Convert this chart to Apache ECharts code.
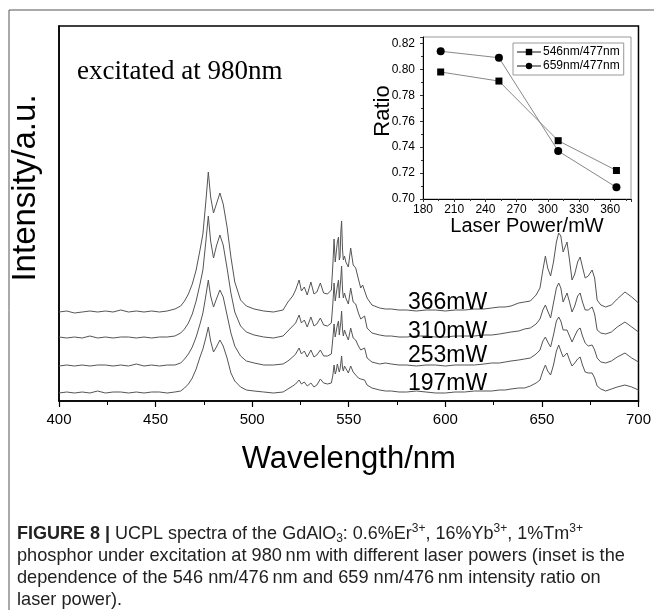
<!DOCTYPE html>
<html>
<head>
<meta charset="utf-8">
<script src="https://cdn.jsdelivr.net/npm/echarts@6/dist/echarts.min.js"></script>
<style>html,body{margin:0;padding:0;background:#fff}#c{width:654px;height:610px}</style>
</head>
<body>
<div id="c"></div>
<script>
// ---- main spectra data ----
const wavelengths = [
  400, 404, 408, 412, 416, 420, 424, 428, 432, 436,
  440, 444, 448, 452, 456, 460, 463, 465, 467, 469,
  471, 473, 474.5, 476, 477.3, 478.5, 480, 481.5, 483.3, 485,
  487, 489, 491, 494, 497, 501, 506, 511, 516, 518.5,
  521, 522.5, 524.3, 525.5, 527, 528.5, 530.4, 532, 533.5, 535.3,
  537, 539, 541, 541.8, 542.4, 543.0, 543.5, 544.1, 544.7, 545.1, 545.5, 545.9, 546.3, 546.8, 547.2, 547.8, 548.5,
  549.8, 551, 552.3, 553.6, 555, 556.2, 557.2, 558.2, 559.5, 562,
  566, 569, 572, 576, 580, 585, 590, 595, 600, 605, 610, 615, 620, 624, 628, 631, 634, 638,
  641, 644, 647, 649, 650.5, 651.8, 653, 654.5, 656, 657.5,
  658.7, 659.8, 661, 663, 664.3, 665.6, 667, 668.5, 669.8, 671,
  672.4, 674, 676, 677.3, 678.6, 680.5, 683, 686, 689, 693,
  696.5, 700
];
const powerLabels = ['197mW', '253mW', '310mW', '366mW'];
const baselines = [8, 35, 63, 89];
const s197 = [
  0, 1, 0, 1, 0, 2, 0, 1, 1, 0,
  1, 0, 1, 1, 0, 1, 2, 5, 9, 15,
  24, 36, 44, 55, 66, 52, 41, 46, 53, 47,
  35, 20, 12, 6, 3, 2, 1, 0, 1, 4,
  7, 9, 13, 9, 11, 7, 10, 6, 8, 14,
  10, 9, 10, 18, 28, 19, 22, 29, 31, 21, 24, 30, 37, 25, 22, 27, 26,
  20, 27, 21, 18, 15, 14, 12, 13, 8, 5,
  3, 2, 2, 1, 1, 2, 1, 0, 0, 1, 1, 2, 2, 2, 3, 3, 4, 5,
  5, 7, 10, 13, 22, 28, 22, 18, 28, 42,
  48, 42, 36, 40, 33, 27, 30, 34, 36, 28,
  21, 20, 20, 15, 7, 4, 2, 4, 6, 8,
  6, 3
];
const s253 = [
  0, 1, 0, 1, 0, 1, 1, 0, 1, 0,
  2, 0, 1, 0, 1, 1, 3, 7, 12, 19,
  29, 42, 53, 70, 86, 70, 59, 67, 76, 69,
  51, 33, 20, 10, 5, 3, 1, 1, 2, 5,
  9, 12, 18, 12, 15, 9, 16, 9, 11, 16,
  10, 10, 12, 28, 42, 29, 30, 41, 45, 31, 33, 44, 55, 36, 30, 36, 32,
  26, 38, 28, 26, 20, 16, 17, 18, 8, 4,
  2, 3, 2, 1, 1, 0, 1, 1, 0, 1, 1, 1, 2, 3, 3, 4, 5, 6,
  7, 8, 12, 16, 25, 29, 24, 19, 31, 45,
  49, 45, 36, 36, 30, 24, 30, 36, 38, 30,
  23, 20, 21, 16, 8, 4, 3, 5, 9, 13,
  8, 4
];
const s310 = [
  1, 0, 1, 0, 2, 0, 1, 0, 1, 1,
  0, 1, 0, 1, 1, 2, 5, 9, 15, 24,
  37, 54, 68, 96, 122, 97, 80, 92, 103, 93,
  70, 45, 26, 12, 6, 3, 1, 0, 2, 7,
  12, 15, 23, 15, 18, 11, 21, 12, 14, 20,
  13, 12, 15, 35, 55, 37, 38, 52, 58, 40, 42, 60, 72, 48, 40, 45, 40,
  34, 50, 36, 34, 25, 19, 21, 22, 10, 5,
  3, 2, 2, 1, 1, 2, 2, 1, 1, 2, 2, 2, 3, 3, 4, 5, 6, 7,
  9, 10, 14, 19, 28, 33, 27, 20, 35, 50,
  55, 50, 36, 45, 36, 26, 32, 42, 45, 36,
  28, 28, 31, 24, 8, 5, 4, 6, 11, 16,
  11, 6
];
const s366 = [
  0, 1, -1, 0, 1, 0, 1, 0, 2, 0,
  1, 0, 1, 0, 1, 3, 6, 11, 18, 28,
  42, 62, 78, 110, 140, 115, 99, 108, 119, 108,
  85, 55, 30, 12, 6, 3, 1, 0, 2, 10,
  16, 22, 32, 21, 25, 17, 30, 18, 20, 29,
  19, 18, 22, 48, 73, 50, 50, 70, 75, 52, 55, 80, 91, 62, 52, 56, 50,
  45, 64, 47, 44, 33, 24, 27, 29, 14, 7,
  4, 3, 3, 2, 2, 1, 2, 2, 1, 2, 2, 3, 3, 4, 5, 5, 6, 9,
  10, 11, 17, 24, 42, 56, 44, 36, 50, 70,
  79, 76, 60, 70, 52, 32, 38, 50, 55, 45,
  34, 36, 42, 34, 12, 7, 5, 7, 13, 20,
  15, 9
];
const xTicksMain = [400, 450, 500, 550, 600, 650, 700];

// ---- inset data ----
const laserPower = [197, 253, 310, 366];
const ratio546 = [0.798, 0.791, 0.745, 0.722];
const ratio659 = [0.814, 0.809, 0.737, 0.709];
const insetNames = ['546nm/477nm', '659nm/477nm'];

const signals = [s197, s253, s310, s366];
const spectraSeries = signals.map((s, k) => ({
  type: 'line', name: powerLabels[k], xAxisIndex: 0, yAxisIndex: 0,
  data: wavelengths.map((w, i) => [w, baselines[k] + s[i]]),
  showSymbol: false, symbol: 'none', smooth: false,
  lineStyle: { color: '#555', width: 1 }, silent: true, z: 2
}));

const labelY = [384, 356, 332, 303];
const chart = echarts.init(document.getElementById('c'), null, { renderer: 'canvas' });
const sans = 'Liberation Sans, Arial, sans-serif';
const capFont = 'Liberation Sans, Arial, sans-serif';

chart.setOption({
  animation: false,
  backgroundColor: '#fff',
  grid: [
    { left: 59, right: 14, top: 26, bottom: 209, show: true, borderColor: '#000', borderWidth: 1.5, z: 1 },
    { left: 423, right: 23, top: 37, bottom: 411, show: true, borderColor: '#999', borderWidth: 1, backgroundColor: '#fff', z: 5 }
  ],
  xAxis: [
    {
      gridIndex: 0, type: 'value', min: 400, max: 700, interval: 50,
      axisLine: { lineStyle: { color: '#000', width: 1.5 } },
      axisTick: { show: true, inside: false, length: 6, lineStyle: { color: '#000', width: 1.2 } },
      minorTick: { show: true, splitNumber: 2, length: 4, lineStyle: { color: '#000', width: 1 } },
      splitLine: { show: false },
      axisLabel: { color: '#000', fontSize: 15, fontFamily: sans, margin: 11,
        formatter: v => xTicksMain.includes(v) ? String(v) : '' },
      name: 'Wavelength/nm', nameLocation: 'middle', nameGap: 43,
      nameTextStyle: { color: '#000', fontSize: 31, fontFamily: sans }
    },
    {
      gridIndex: 1, type: 'value', min: 180, max: 380, interval: 30, z: 6,
      axisLine: { lineStyle: { color: '#000', width: 1 } },
      axisTick: { show: true, inside: false, length: 3, lineStyle: { color: '#333' } },
      minorTick: { show: true, splitNumber: 2, length: 2, lineStyle: { color: '#333' } },
      splitLine: { show: false },
      axisLabel: { color: '#000', fontSize: 12, fontFamily: sans, margin: 5, showMaxLabel: false },
      name: 'Laser Power/mW', nameLocation: 'middle', nameGap: 14,
      nameTextStyle: { color: '#000', fontSize: 20, fontFamily: sans }
    }
  ],
  yAxis: [
    {
      gridIndex: 0, type: 'value', min: 0, max: 375,
      axisLine: { show: true, lineStyle: { color: '#000', width: 1.5 } },
      axisTick: { show: false }, axisLabel: { show: false }, splitLine: { show: false }
    },
    {
      gridIndex: 1, type: 'value', min: 0.70, max: 0.825, interval: 0.02, z: 6,
      axisLine: { show: true, lineStyle: { color: '#000', width: 1 } },
      axisTick: { show: true, inside: false, length: 3, lineStyle: { color: '#333' } },
      minorTick: { show: true, splitNumber: 2, length: 2, lineStyle: { color: '#333' } },
      splitLine: { show: false },
      axisLabel: { color: '#000', fontSize: 12, fontFamily: sans, margin: 8, showMaxLabel: false,
        formatter: v => v.toFixed(2) }
    }
  ],
  legend: {
    data: insetNames, orient: 'vertical', left: 513, top: 43, z: 8,
    itemWidth: 24, itemHeight: 8, itemGap: 2,
    padding: [3, 4, 3, 3],
    borderColor: '#999', borderWidth: 1, backgroundColor: '#fff',
    textStyle: { color: '#000', fontSize: 12, fontFamily: sans, padding: [0, 0, 0, -3] },
    inactiveColor: '#000'
  },
  series: spectraSeries.concat([
    {
      type: 'line', name: insetNames[0], xAxisIndex: 1, yAxisIndex: 1, z: 7,
      data: laserPower.map((p, i) => [p, ratio546[i]]),
      symbol: 'rect', symbolSize: 7,
      itemStyle: { color: '#000' }, lineStyle: { color: '#888', width: 1 }
    },
    {
      type: 'line', name: insetNames[1], xAxisIndex: 1, yAxisIndex: 1, z: 7,
      data: laserPower.map((p, i) => [p, ratio659[i]]),
      symbol: 'circle', symbolSize: 8,
      itemStyle: { color: '#000' }, lineStyle: { color: '#888', width: 1 }
    }
  ]),
  graphic: [
    { type: 'rect', shape: { x: 9, y: 10, width: 700, height: 700 },
      style: { fill: 'none', stroke: '#555', lineWidth: 1 }, silent: true, z: 0 },
    { type: 'text', x: 26, y: 188, rotation: Math.PI / 2,
      style: { text: 'Intensity/a.u.', fill: '#000', fontSize: 33, fontFamily: sans,
        textAlign: 'center', textVerticalAlign: 'middle' } },
    { type: 'text', x: 383, y: 111, rotation: Math.PI / 2, z: 10,
      style: { text: 'Ratio', fill: '#000', fontSize: 22, fontFamily: sans,
        textAlign: 'center', textVerticalAlign: 'middle' } },
    { type: 'text', x: 77, y: 72,
      style: { text: 'excitated at 980nm', fill: '#000', fontSize: 27,
        fontFamily: 'Liberation Serif, Times New Roman, serif', textAlign: 'left', textVerticalAlign: 'middle' } }
  ].concat(powerLabels.map((t, k) => ({
    type: 'text', x: 408, y: labelY[k], z: 3,
    style: { text: t, fill: '#000', fontSize: 23, fontFamily: sans, textAlign: 'left', textVerticalAlign: 'middle' }
  }))).concat([
    { type: 'text', x: 17, y: 534,
      style: {
        text: '{b|FIGURE 8 |} UCPL spectra of the GdAlO{sub|3}: 0.6%Er{sup|3+}, 16%Yb{sup|3+}, 1%Tm{sup|3+}',
        fill: '#222', fontSize: 18, fontFamily: capFont, textVerticalAlign: 'middle', lineHeight: 22,
        rich: {
          b: { fontWeight: 'bold', fontSize: 18, fontFamily: capFont, fill: '#222', lineHeight: 22 },
          sup: { fontSize: 12, fontFamily: capFont, fill: '#222', lineHeight: 10, verticalAlign: 'top' },
          sub: { fontSize: 12, fontFamily: capFont, fill: '#222', lineHeight: 10, verticalAlign: 'bottom' }
        }
      } },
    { type: 'text', x: 17, y: 556,
      style: { text: 'phosphor under excitation at 980\u2009nm with different laser powers (inset is the',
        fill: '#222', fontSize: 18.2, fontFamily: capFont, textVerticalAlign: 'middle' } },
    { type: 'text', x: 17, y: 578,
      style: { text: 'dependence of the 546 nm/476\u2009nm and 659 nm/476\u2009nm intensity ratio on',
        fill: '#222', fontSize: 18.2, fontFamily: capFont, textVerticalAlign: 'middle' } },
    { type: 'text', x: 17, y: 600,
      style: { text: 'laser power).',
        fill: '#222', fontSize: 18.2, fontFamily: capFont, textVerticalAlign: 'middle' } }
  ])
});
</script>
</body>
</html>
